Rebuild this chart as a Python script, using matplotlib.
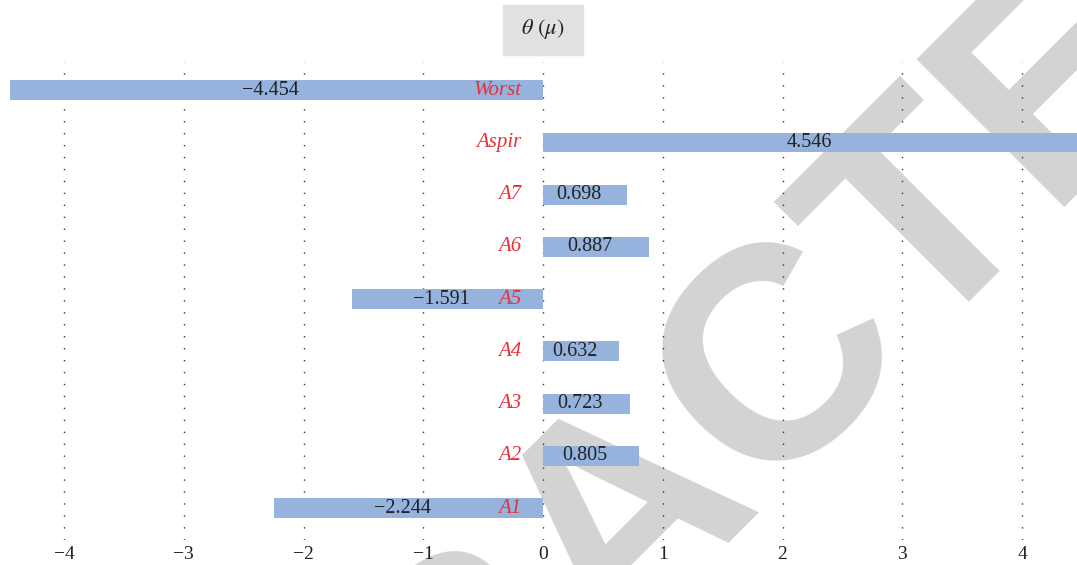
import matplotlib
matplotlib.use('Agg')
import matplotlib.pyplot as plt
from matplotlib.patches import Rectangle

# data (bottom row first)
names = ['A1', 'A2', 'A3', 'A4', 'A5', 'A6', 'A7', 'Aspir', 'Worst']
theta = [-2.244, 0.805, 0.723, 0.632, -1.591, 0.887, 0.698, 4.546, -4.454]
ticks = [-4, -3, -2, -1, 0, 1, 2, 3, 4]

BAR_COLOR = '#95b3dd'
LABEL_RED = '#e8303a'
TEXT_DARK = '#222222'

plt.rcParams['font.family'] = ['Liberation Serif', 'DejaVu Serif']
plt.rcParams['mathtext.fontset'] = 'stix'

W, H = 1077, 565
fig = plt.figure(figsize=(W / 100, H / 100), dpi=100)

# watermark, drawn under the axes
fig.text(683 / W, 1 - 569 / H, 'RETRACTED', rotation=45, rotation_mode='anchor',
         ha='center', va='baseline', fontsize=218, fontweight='bold',
         family='Liberation Sans', color='#d3d3d3', zorder=-1)

# x=0 at pixel 543, one unit = 119.75 px
ax = fig.add_axes([0, 25 / H, 1, (540 - 62) / H])
ax.patch.set_alpha(0)
ax.set_xlim(-543 / 119.75, (W - 543) / 119.75)
ax.set_ylim(-0.61, 8.54)

y = list(range(len(names)))
ax.barh(y, theta, height=0.38, color=BAR_COLOR, zorder=3)

# dotted vertical grid
for t in ticks:
    ax.axvline(t, color='#333333', lw=1, linestyle=(0, (1, 7.6)), zorder=2)

for yi, name, v in zip(y, names, theta):
    ax.text(-0.18, yi, name, ha='right', va='center', color=LABEL_RED,
            style='italic', fontsize=15, zorder=4)
    ax.text(v / 2 - 0.05, yi, f'{v:.3f}'.replace('-', '\u2212'), ha='center',
            va='center', color=TEXT_DARK, fontsize=14.5, zorder=4)

ax.set_xticks(ticks)
ax.set_xticklabels([str(t).replace('-', '\u2212') for t in ticks],
                   fontsize=14, color=TEXT_DARK)
ax.tick_params(axis='x', length=0, pad=4)
ax.set_yticks([])
for s in ax.spines.values():
    s.set_visible(False)

# title box
fig.patches.append(Rectangle((503 / W, 1 - 55 / H), 80 / W, 50 / H,
                             transform=fig.transFigure, color='#e1e1e1', zorder=1))
fig.text(543 / W, 1 - 29 / H, r'$\theta\ (\mu)$', ha='center', va='center',
         fontsize=16, color=TEXT_DARK, zorder=5)

fig.savefig('out.png', dpi=100)
